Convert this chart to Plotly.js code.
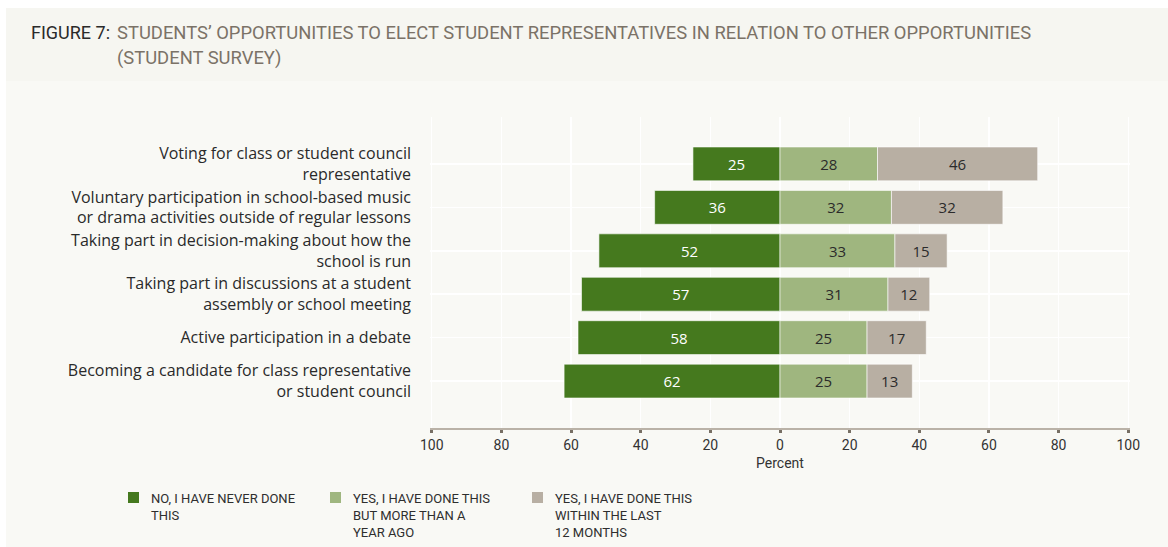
<!DOCTYPE html>
<html>
<head>
<meta charset="utf-8">
<script src="https://cdn.plot.ly/plotly-3.0.1.min.js"></script>
<style>html,body{margin:0;padding:0;background:#fff;}#chart{width:1168px;height:547px;}</style>
</head>
<body>
<div id="chart"></div>
<script>
const categories = [
  "Voting for class or student council<br>representative",
  "Voluntary participation in school-based music<br>or drama activities outside of regular lessons",
  "Taking part in decision-making about how the<br>school is run",
  "Taking part in discussions at a student<br>assembly or school meeting",
  "Active participation in a debate",
  "Becoming a candidate for class representative<br>or student council"
];
const neverDone = [25, 36, 52, 57, 58, 62];
const moreThanYearAgo = [28, 32, 33, 31, 25, 25];
const last12Months = [46, 32, 15, 12, 17, 13];
const seriesNames = ["NO, I HAVE NEVER DONE<br>THIS", "YES, I HAVE DONE THIS<br>BUT MORE THAN A<br>YEAR AGO", "YES, I HAVE DONE THIS<br>WITHIN THE LAST<br>12 MONTHS"];
const seriesColors = ["#45791e", "#9fb67f", "#b8afa3"];
const tickVals = [-100, -80, -60, -40, -20, 0, 20, 40, 60, 80, 100];
const tickText = ["100", "80", "60", "40", "20", "0", "20", "40", "60", "80", "100"];

const W = 1168, H = 547;
const M = {l: 430, r: 38, t: 117, b: 119};
const pw = W - M.l - M.r, ph = H - M.t - M.b;
const px = x => (x - M.l) / pw;
const py = y => 1 - (y - M.t) / ph;

const barFont = {family: "Open Sans, Noto Sans, sans-serif", size: 15};
const lineStyle = {color: "rgba(255,255,255,0.6)", width: 1};

const traces = [
  {type: "bar", orientation: "h", y: categories, x: neverDone.map(v => -v),
   text: neverDone.map(String), textposition: "inside", insidetextanchor: "middle",
   textfont: Object.assign({color: "#ffffff"}, barFont), constraintext: "none",
   marker: {color: seriesColors[0], line: lineStyle}, width: 0.78, name: seriesNames[0]},
  {type: "bar", orientation: "h", y: categories, x: moreThanYearAgo,
   text: moreThanYearAgo.map(String), textposition: "inside", insidetextanchor: "middle",
   textfont: Object.assign({color: "#2b2b2b"}, barFont), constraintext: "none",
   marker: {color: seriesColors[1], line: lineStyle}, width: 0.78, name: seriesNames[1]},
  {type: "bar", orientation: "h", y: categories, x: last12Months,
   text: last12Months.map(String), textposition: "inside", insidetextanchor: "middle",
   textfont: Object.assign({color: "#2b2b2b"}, barFont), constraintext: "none",
   marker: {color: seriesColors[2], line: lineStyle}, width: 0.78, name: seriesNames[2]}
];

const condensed = "Roboto, Open Sans, sans-serif";

const shapes = [
  {type: "rect", xref: "paper", yref: "paper", x0: px(6), x1: px(W), y0: py(8), y1: py(H), fillcolor: "#f9f9f5", line: {width: 0}, layer: "below"},
  {type: "rect", xref: "paper", yref: "paper", x0: px(6), x1: px(W), y0: py(8), y1: py(81), fillcolor: "#f6f6f1", line: {width: 0}, layer: "below"}
];
const annotations = [
  {xref: "paper", yref: "paper", x: px(29), y: py(32), xanchor: "left", yanchor: "middle", showarrow: false,
   text: "FIGURE 7:", font: {family: condensed, size: 18, color: "#2a2a2a"}},
  {xref: "paper", yref: "paper", x: px(115), y: py(32), xanchor: "left", yanchor: "middle", showarrow: false, align: "left",
   text: "STUDENTS’ OPPORTUNITIES TO ELECT STUDENT REPRESENTATIVES IN RELATION TO OTHER OPPORTUNITIES",
   font: {family: condensed, size: 18.4, color: "#7b7267"}},
  {xref: "paper", yref: "paper", x: px(115), y: py(58), xanchor: "left", yanchor: "middle", showarrow: false, align: "left",
   text: "(STUDENT SURVEY)",
   font: {family: condensed, size: 18.4, color: "#7b7267"}}
];
const legX = [128, 330, 532];
seriesNames.forEach((n, i) => {
  shapes.push({type: "rect", xref: "paper", yref: "paper", x0: px(legX[i]), x1: px(legX[i] + 11),
    y0: py(492), y1: py(503), fillcolor: seriesColors[i], line: {width: 0}});
  annotations.push({xref: "paper", yref: "paper", x: px(legX[i] + 21), y: py(489), xanchor: "left", yanchor: "top",
    align: "left", showarrow: false, text: n, font: {family: condensed, size: 13, color: "#2e2e2e"}});
});

const layout = {
  width: W, height: H,
  margin: M,
  paper_bgcolor: "#ffffff",
  plot_bgcolor: "#ebebeb",
  barmode: "relative",
  showlegend: false,
  xaxis: {range: [-100.5, 100.5], tickvals: tickVals, ticktext: tickText,
    showgrid: true, gridcolor: "#ffffff", gridwidth: 1.5,
    zeroline: true, zerolinecolor: "#ffffff", zerolinewidth: 2,
    showline: true, linecolor: "#bab2a7", linewidth: 2,
    ticks: "outside", ticklen: 3, tickwidth: 3, tickcolor: "#776f64",
    tickfont: {family: condensed, size: 14, color: "#333333"},
    title: {text: "Percent", font: {family: condensed, size: 14, color: "#333333"}, standoff: 6},
    fixedrange: true},
  yaxis: {type: "category", range: [6.08, -1.08],
    showgrid: true, gridcolor: "#ffffff", gridwidth: 1.5,
    zeroline: false, showline: false, ticks: "", ticklabelstandoff: 18,
    tickfont: {family: "Open Sans, sans-serif", size: 16, color: "#2a2a2a"},
    fixedrange: true},
  shapes: shapes,
  annotations: annotations
};

Plotly.newPlot("chart", traces, layout, {displayModeBar: false, staticPlot: true});
</script>
</body>
</html>
